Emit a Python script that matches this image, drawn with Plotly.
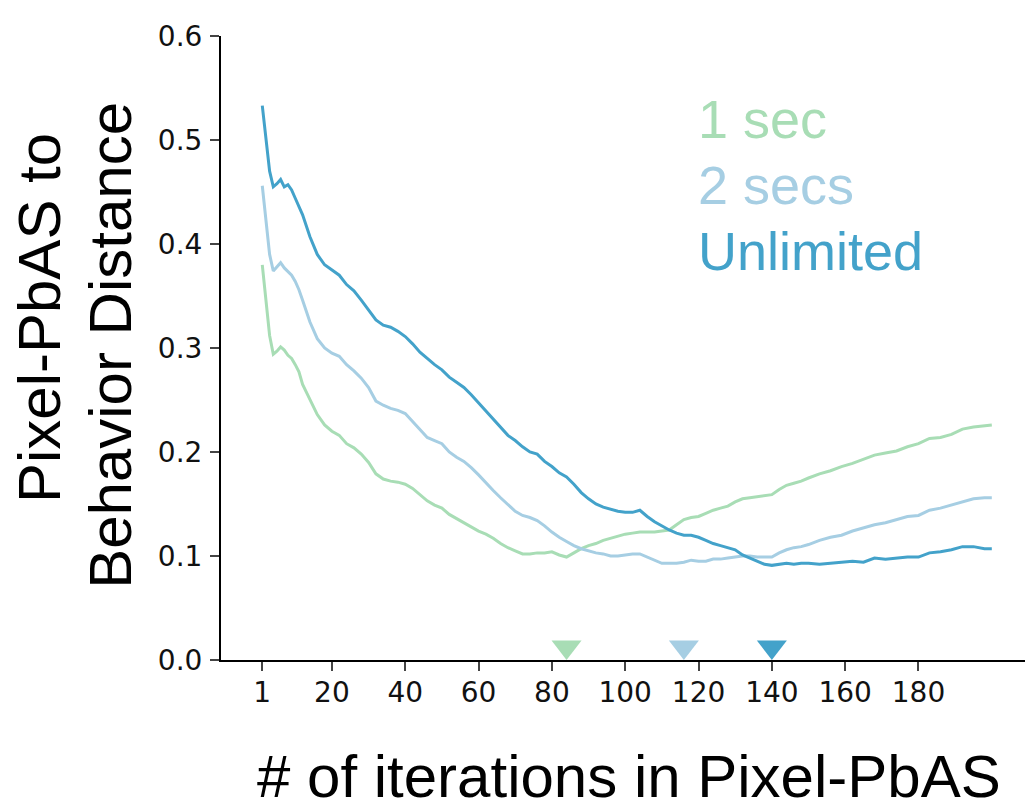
import plotly.graph_objects as go

# iterations
iters = [1, 2, 3, 4, 5, 6, 7, 8, 9, 10, 11, 12, 14, 16, 18, 20, 22, 24, 26, 28,
         30, 32, 34, 36, 38, 40, 42, 44, 46, 48, 50, 52, 54, 56, 58, 60, 62, 64, 66, 68,
         70, 72, 74, 76, 78, 80, 82, 84, 86, 88, 90, 92, 94, 96, 98, 100, 102, 104, 106, 108,
         110, 112, 114, 116, 118, 120, 122, 124, 126, 128, 130, 132, 134, 136, 138, 140, 142, 144, 146, 148,
         150, 153, 156, 159, 162, 165, 168, 171, 174, 177, 180, 183, 186, 189, 192, 195, 198, 200]

dist_1sec = [0.380, 0.349, 0.312, 0.294, 0.297, 0.301, 0.298, 0.293, 0.290, 0.284, 0.277, 0.265, 0.250, 0.236, 0.226, 0.220, 0.216, 0.208, 0.204, 0.198,
             0.190, 0.179, 0.174, 0.172, 0.171, 0.169, 0.165, 0.159, 0.153, 0.149, 0.146, 0.140, 0.136, 0.132, 0.128, 0.124, 0.121, 0.117, 0.112, 0.108,
             0.105, 0.102, 0.102, 0.103, 0.103, 0.104, 0.101, 0.099, 0.103, 0.107, 0.110, 0.112, 0.115, 0.117, 0.119, 0.121, 0.122, 0.123, 0.123, 0.123,
             0.124, 0.125, 0.130, 0.135, 0.137, 0.138, 0.141, 0.144, 0.146, 0.148, 0.152, 0.155, 0.156, 0.157, 0.158, 0.159, 0.164, 0.168, 0.170, 0.172,
             0.175, 0.179, 0.182, 0.186, 0.189, 0.193, 0.197, 0.199, 0.201, 0.205, 0.208, 0.213, 0.214, 0.217, 0.222, 0.224, 0.225, 0.226]

dist_2secs = [0.456, 0.420, 0.390, 0.374, 0.378, 0.382, 0.377, 0.373, 0.370, 0.364, 0.356, 0.346, 0.325, 0.309, 0.300, 0.295, 0.292, 0.284, 0.278, 0.271,
              0.262, 0.249, 0.245, 0.242, 0.240, 0.237, 0.229, 0.221, 0.214, 0.211, 0.208, 0.200, 0.195, 0.191, 0.185, 0.178, 0.170, 0.163, 0.156, 0.149,
              0.143, 0.139, 0.137, 0.134, 0.129, 0.123, 0.118, 0.114, 0.110, 0.107, 0.105, 0.103, 0.102, 0.100, 0.100, 0.101, 0.102, 0.102, 0.099, 0.096,
              0.093, 0.093, 0.093, 0.094, 0.096, 0.095, 0.095, 0.097, 0.097, 0.098, 0.099, 0.100, 0.100, 0.099, 0.099, 0.099, 0.103, 0.106, 0.108, 0.109,
              0.111, 0.115, 0.118, 0.120, 0.124, 0.127, 0.130, 0.132, 0.135, 0.138, 0.139, 0.144, 0.146, 0.149, 0.152, 0.155, 0.156, 0.156]

dist_unlim = [0.533, 0.500, 0.470, 0.455, 0.458, 0.462, 0.455, 0.457, 0.452, 0.444, 0.436, 0.428, 0.407, 0.390, 0.380, 0.375, 0.370, 0.361, 0.355, 0.346,
              0.337, 0.327, 0.322, 0.320, 0.316, 0.311, 0.304, 0.296, 0.290, 0.284, 0.279, 0.272, 0.267, 0.262, 0.255, 0.247, 0.240, 0.231, 0.223, 0.216,
              0.211, 0.205, 0.200, 0.198, 0.191, 0.186, 0.180, 0.176, 0.169, 0.161, 0.155, 0.150, 0.147, 0.145, 0.143, 0.142, 0.142, 0.144, 0.138, 0.133,
              0.129, 0.125, 0.122, 0.120, 0.120, 0.118, 0.115, 0.112, 0.110, 0.108, 0.106, 0.101, 0.098, 0.095, 0.092, 0.091, 0.092, 0.093, 0.092, 0.093,
              0.093, 0.092, 0.093, 0.094, 0.095, 0.094, 0.098, 0.097, 0.098, 0.099, 0.099, 0.103, 0.104, 0.106, 0.109, 0.109, 0.107, 0.107]

labels = ["1 sec", "2 secs", "Unlimited"]
best_iter = [84, 116, 140]
colors = ["#a8ddb5", "#a6cee3", "#43a2ca"]

x_ticks = [1, 20, 40, 60, 80, 100, 120, 140, 160, 180]
y_ticks = [0.0, 0.1, 0.2, 0.3, 0.4, 0.5, 0.6]

fig = go.Figure()
for name, vals, col in zip(labels, [dist_1sec, dist_2secs, dist_unlim], colors):
    fig.add_trace(go.Scatter(x=iters, y=vals, mode="lines", name=name,
                             line=dict(color=col, width=3)))

# minimum markers sitting on the x axis
fig.add_trace(go.Scatter(x=best_iter, y=[0.0125] * len(best_iter), mode="markers",
                         marker=dict(symbol="triangle-down", size=26, color=colors),
                         cliponaxis=False, showlegend=False))

# coloured text legend
for i, (name, col) in enumerate(zip(labels, colors)):
    fig.add_annotation(text=name, xref="paper", yref="paper", x=0.589, y=0.867 - 0.106 * i,
                       xanchor="left", yanchor="middle", showarrow=False,
                       font=dict(family="Liberation Sans, Arial", size=54, color=col))

title_font = dict(family="Liberation Sans, Arial", size=60, color="black")
fig.add_annotation(text="Pixel-PbAS to", xref="paper", yref="paper", x=-0.2258, y=0.548,
                   textangle=-90, showarrow=False, xanchor="center", yanchor="middle", font=title_font)
fig.add_annotation(text="Behavior Distance", xref="paper", yref="paper", x=-0.1365, y=0.505,
                   textangle=-90, showarrow=False, xanchor="center", yanchor="middle", font=title_font)
fig.add_annotation(text="# of iterations in Pixel-PbAS", xref="paper", yref="paper", x=0.506, y=-0.187,
                   showarrow=False, xanchor="center", yanchor="middle", font=title_font)

# page body has an 8px margin, so the figure is a bit smaller than the window
fig.update_layout(
    width=1025, height=793,
    margin=dict(l=213, r=6, t=28, b=141, pad=0),
    plot_bgcolor="white", paper_bgcolor="white",
    showlegend=False,
    font=dict(family="DejaVu Sans", size=28, color="#111"),
)
fig.update_xaxes(range=[-10.26, 209.6], tickvals=x_ticks, ticks="outside", ticklen=9, tickwidth=2,
                 showline=True, linewidth=2, linecolor="black", showgrid=False, zeroline=False,
                 ticklabelstandoff=-3)
fig.update_yaxes(range=[0, 0.6], tickvals=y_ticks, tickformat=".1f", ticks="outside", ticklen=9, tickwidth=2,
                 showline=True, linewidth=2, linecolor="black", showgrid=False, zeroline=False,
                 ticklabelstandoff=2)

fig.write_html("out.html")
